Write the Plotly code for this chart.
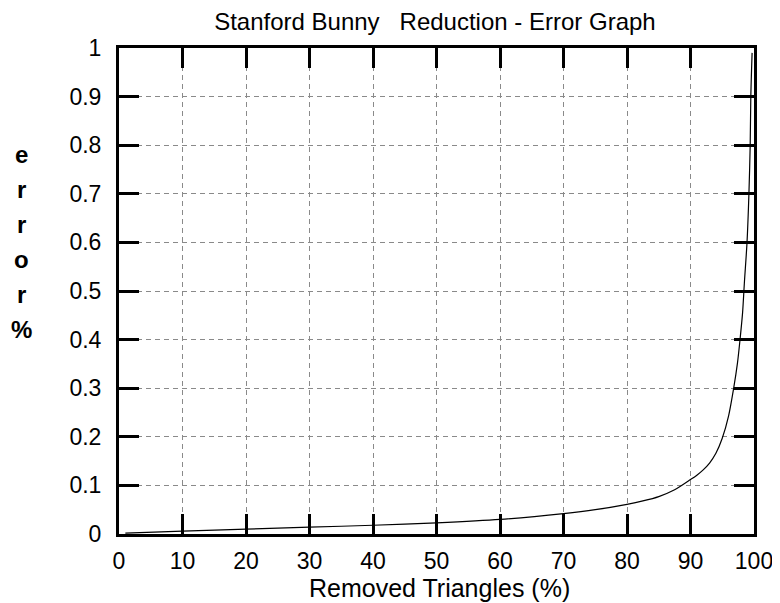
import plotly.graph_objects as go

# Data
removed_pct = [1, 10, 20, 30, 40, 50, 60, 70, 75, 80, 82.5, 85, 87.5, 90, 91, 92, 93,
               94, 95, 96, 96.8, 97.4, 97.8, 98.2, 98.5, 98.9, 99.2, 99.4, 99.5, 99.7]
error_pct = [0.002, 0.006, 0.010, 0.014, 0.018, 0.023, 0.030, 0.042, 0.050, 0.061,
             0.068, 0.077, 0.091, 0.112, 0.121, 0.132, 0.146, 0.166, 0.197, 0.243,
             0.300, 0.352, 0.400, 0.455, 0.520, 0.600, 0.700, 0.800, 0.900, 0.990]

x_ticks = [0, 10, 20, 30, 40, 50, 60, 70, 80, 90, 100]
y_ticks = [0, 0.1, 0.2, 0.3, 0.4, 0.5, 0.6, 0.7, 0.8, 0.9, 1]
y_tick_text = ["0", "0.1", "0.2", "0.3", "0.4", "0.5", "0.6", "0.7", "0.8", "0.9", "1"]
y_title_chars = ["e", "r", "r", "o", "r", "%"]

FONT = "Liberation Sans, Arial, Helvetica, sans-serif"

fig = go.Figure()
fig.add_trace(go.Scatter(x=removed_pct, y=error_pct, mode="lines", line_shape="spline",
                         line=dict(color="black", width=1.2, smoothing=0.8), showlegend=False))

axis_common = dict(
    showline=True, linecolor="black", linewidth=3, mirror="ticks",
    ticks="inside", ticklen=20, tickwidth=3, tickcolor="black",
    showgrid=True, gridcolor="#8a8a8a", gridwidth=1, griddash="5px,4px",
    zeroline=False, tickfont=dict(family=FONT, size=23, color="black"),
    automargin=False,
)

fig.update_xaxes(range=[0, 100], tickvals=x_ticks, ticklabelstandoff=4, **axis_common)
fig.update_yaxes(range=[0, 1], tickvals=y_ticks, ticktext=y_tick_text,
                 ticklabelstandoff=10, **axis_common)

for i, ch in enumerate(y_title_chars):
    fig.add_annotation(text="<b>" + ch + "</b>", xref="paper", yref="paper",
                       x=-0.153, y=0.78 - i * 0.072, xanchor="center", yanchor="middle",
                       showarrow=False, font=dict(family=FONT, size=24, color="black"))

fig.add_annotation(text="Removed Triangles (%)", xref="paper", yref="paper",
                   x=0.505, y=-0.111, xanchor="center", yanchor="middle",
                   showarrow=False, font=dict(family=FONT, size=25, color="black"))

# page body has an 8px default margin; the figure is sized to fill the rest
fig.update_layout(
    width=772, height=595,
    margin=dict(l=111, r=26, t=40, b=69),
    paper_bgcolor="white", plot_bgcolor="white",
    title=dict(text="Stanford Bunny   Reduction - Error Graph",
               font=dict(family=FONT, size=24, color="black"),
               x=0.553, xanchor="center", y=0.977, yanchor="middle", automargin=False),
)

fig.write_html("out.html")
